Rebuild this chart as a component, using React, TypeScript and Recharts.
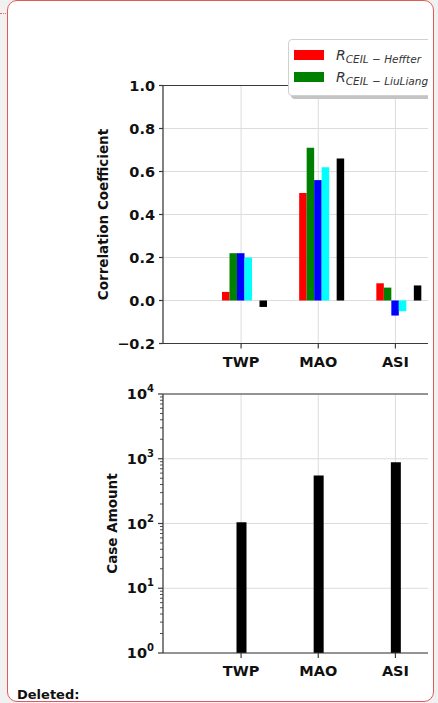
import React from 'react'
import { BarChart, Bar, XAxis, YAxis, CartesianGrid, ReferenceLine, Label } from 'recharts'

const SITES = ['TWP', 'MAO', 'ASI']

// correlation coefficient per site, one array per series (left to right in each group)
const R_HEFFTER = [0.04, 0.5, 0.08]
const R_LIULIANG = [0.22, 0.71, 0.06]
const R_BLUE = [0.22, 0.56, -0.07]
const R_CYAN = [0.2, 0.62, -0.05]
const R_BLACK = [-0.03, 0.66, 0.07]

const CASE_AMOUNT = [105, 550, 880]

const CORR_TICKS = [-0.2, 0, 0.2, 0.4, 0.6, 0.8, 1.0]
const CASE_TICKS = [1, 10, 100, 1000, 10000]
const CASE_EXPONENTS = ['0', '1', '2', '3', '4']
const MINOR_STEPS = [2, 3, 4, 5, 6, 7, 8, 9]

const SERIES = [
    { key: 'lead', color: 'none', legend: '' },
    { key: 'heffter', color: '#ff0000', legend: 'Heffter' },
    { key: 'liuliang', color: '#008000', legend: 'LiuLiang' },
    { key: 'blue', color: '#0000ff', legend: '' },
    { key: 'cyan', color: '#00ffff', legend: '' },
    { key: 'empty', color: 'none', legend: '' },
    { key: 'black', color: '#000000', legend: '' },
]

const corrData = SITES.map((site, i) => ({
    site,
    lead: null,
    heffter: R_HEFFTER[i],
    liuliang: R_LIULIANG[i],
    blue: R_BLUE[i],
    cyan: R_CYAN[i],
    empty: null,
    black: R_BLACK[i],
}))

const caseData = SITES.map((site, i) => ({ site, cases: CASE_AMOUNT[i] }))

const caseTicks = [
    ...CASE_TICKS,
    ...CASE_TICKS.slice(0, -1).flatMap(t => MINOR_STEPS.map(m => m * t)),
]

const FONT = '"DejaVu Sans", sans-serif'
const SPINE = '#3a3a3a'
const GRID = '#dcdcdc'

const tickStyle = { fontFamily: FONT, fontWeight: 700, fontSize: 14.5, fill: '#111' }

const fmtCorr = (v: number) => (v < 0 ? '\u2212' + Math.abs(v).toFixed(1) : v.toFixed(1))

function AxisTitle(props: any) {
    const { viewBox, value, cx } = props
    const cy = viewBox.y + viewBox.height / 2
    return (
        <text
            x={cx}
            y={cy}
            transform={`rotate(-90 ${cx} ${cy})`}
            textAnchor="middle"
            dominantBaseline="central"
            style={{ fontFamily: FONT, fontWeight: 700, fontSize: 13.5, fill: '#111' }}
        >
            {value}
        </text>
    )
}

function LogTick(props: any) {
    const { x, y, payload } = props
    const idx = CASE_TICKS.indexOf(payload.value)
    if (idx < 0) {
        return <line x1={x - 3} x2={x} y1={y} y2={y} stroke={SPINE} strokeWidth={0.9} />
    }
    return (
        <g>
            <line x1={x - 5} x2={x} y1={y} y2={y} stroke={SPINE} strokeWidth={1.2} />
            <text x={x - 9} y={y + 5} textAnchor="end" style={{ fontFamily: FONT, fontWeight: 700, fontSize: 14.5, fill: '#111' }}>
                10<tspan dy={-7} fontSize={10}>{CASE_EXPONENTS[idx]}</tspan>
            </text>
        </g>
    )
}

function CorrLegend() {
    return (
        <div
            style={{
                position: 'absolute',
                left: 288,
                top: 39,
                width: 170,
                height: 55,
                background: '#fff',
                border: '1px solid #d0d0d0',
                borderRadius: 4,
                boxShadow: '3px 3px 0 #c4c4c4',
                fontFamily: FONT,
                color: '#333',
            }}
        >
            {SERIES.filter(s => s.legend).map((s, i) => (
                <div key={s.key} style={{ position: 'absolute', left: 5, top: 7 + i * 22, display: 'flex', alignItems: 'center' }}>
                    <div style={{ width: 30, height: 10, background: s.color }} />
                    <span style={{ marginLeft: 12, fontStyle: 'italic', fontSize: 14, whiteSpace: 'nowrap' }}>
                        R
                        <span style={{ fontSize: 10.5, position: 'relative', top: 3 }}>CEIL − {s.legend}</span>
                    </span>
                </div>
            ))}
        </div>
    )
}

export default function App() {
    return (
        <div style={{ position: 'absolute', left: 0, top: 0, width: 438, height: 703, background: '#f1f1f1', overflow: 'hidden' }}>
            <div
                style={{
                    position: 'absolute',
                    left: 0,
                    top: 13,
                    width: 8,
                    borderTop: '1.5px dotted #e06a6a',
                }}
            />
            <div
                style={{
                    position: 'absolute',
                    left: 7,
                    top: 0,
                    width: 425,
                    height: 700,
                    background: '#fff',
                    border: '1.5px solid #e05a5a',
                    borderRadius: 10,
                }}
            />
            <div style={{ position: 'absolute', left: 0, top: 0, width: 428, height: 703, overflow: 'hidden' }}>
                <div style={{ position: 'absolute', left: 0, top: 0 }}>
                    <BarChart
                        width={484}
                        height={380}
                        data={corrData}
                        margin={{ top: 85.5, right: 10, bottom: 6.5, left: 103 }}
                        barGap={0}
                        barSize={7.5}
                    >
                        <CartesianGrid stroke={GRID} horizontalValues={CORR_TICKS} />
                        <XAxis
                            dataKey="site"
                            height={30}
                            padding={{ left: 39.5, right: 40 }}
                            interval={0}
                            stroke={SPINE}
                            strokeWidth={1.2}
                            tickSize={5}
                            tickMargin={8}
                            tick={tickStyle}
                        />
                        <YAxis
                            type="number"
                            width={60}
                            domain={[-0.2, 1.0]}
                            ticks={CORR_TICKS}
                            interval={0}
                            tickFormatter={fmtCorr}
                            stroke={SPINE}
                            strokeWidth={1.2}
                            tickSize={4}
                            tickMargin={4}
                            tick={tickStyle}
                        >
                            <Label value="Correlation Coefficient" content={(p: any) => <AxisTitle {...p} cx={103} />} />
                        </YAxis>
                        <ReferenceLine y={1.0} stroke={SPINE} strokeWidth={1.2} />
                        {SERIES.map(s => (
                            <Bar key={s.key} dataKey={s.key} fill={s.color} isAnimationActive={false} />
                        ))}
                    </BarChart>
                </div>
                <div style={{ position: 'absolute', left: 0, top: 370 }}>
                    <BarChart
                        width={484}
                        height={320}
                        data={caseData}
                        margin={{ top: 24, right: 10, bottom: 7, left: 103 }}
                        barSize={10}
                    >
                        <CartesianGrid stroke={GRID} horizontalValues={CASE_TICKS} />
                        <XAxis
                            dataKey="site"
                            height={30}
                            padding={{ left: 39.5, right: 40 }}
                            interval={0}
                            stroke={SPINE}
                            strokeWidth={1.2}
                            tickSize={5}
                            tickMargin={8}
                            tick={tickStyle}
                        />
                        <YAxis
                            type="number"
                            scale="log"
                            width={60}
                            domain={[1, 10000]}
                            allowDataOverflow
                            ticks={caseTicks}
                            interval={0}
                            stroke={SPINE}
                            strokeWidth={1.2}
                            tickLine={false}
                            tickSize={0}
                            tickMargin={0}
                            tick={<LogTick />}
                        >
                            <Label value="Case Amount" content={(p: any) => <AxisTitle {...p} cx={112} />} />
                        </YAxis>
                        <ReferenceLine y={10000} stroke={SPINE} strokeWidth={1.2} />
                        <Bar dataKey="cases" fill="#000" isAnimationActive={false} />
                    </BarChart>
                </div>
                <CorrLegend />
            </div>
            <div
                style={{
                    position: 'absolute',
                    left: 17,
                    top: 687,
                    fontFamily: FONT,
                    fontWeight: 700,
                    fontSize: 13,
                    color: '#111',
                }}
            >
                Deleted:
            </div>
        </div>
    )
}
